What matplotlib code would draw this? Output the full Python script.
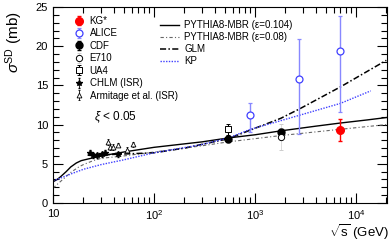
import matplotlib
matplotlib.use("Agg")
import matplotlib.pyplot as plt
from matplotlib.ticker import FixedLocator, NullFormatter
import numpy as np

plt.rcParams['font.family'] = ['Liberation Sans', 'DejaVu Sans']
plt.rcParams['mathtext.fontset'] = 'custom'
plt.rcParams['mathtext.rm'] = 'Liberation Sans'
plt.rcParams['mathtext.it'] = 'Liberation Sans:italic'

# ---- data ----
kg_x = [7000]; kg_y = [9.3]; kg_err = [1.4]
alice_x = [900, 2760, 7000]
alice_y = [11.2, 15.8, 19.4]
alice_lo = [2.1, 7.0, 7.8]
alice_hi = [1.6, 5.1, 4.5]
cdf_x = [546, 1800]; cdf_y = [8.2, 9.1]; cdf_err = [0.4, 0.4]
e710_x = [1800]; e710_y = [8.4]; e710_err = [1.7]
ua4_x = [546]; ua4_y = [9.4]; ua4_err = [0.7]
chlm_x = [23.3, 24.9, 27.3, 30.6, 32.7, 44.0]
chlm_y = [6.4, 6.1, 6.1, 6.2, 6.4, 6.2]
chlm_err = [0.3, 0.3, 0.3, 0.3, 0.3, 0.3]
arm_x = [35.0, 36.7, 39.3, 44.0, 54.0, 62.0]
arm_y = [7.8, 7.1, 7.1, 7.4, 6.8, 7.5]
arm_err = [0.4, 0.4, 0.4, 0.3, 0.3, 0.3]

mbr104_x = [10, 11, 12, 13.5, 15, 17, 19, 22, 30, 50, 100, 300, 546, 1000, 1800, 4000, 7000, 13000, 20000]
mbr104_y = [2.7, 3.0, 3.4, 4.0, 4.6, 5.1, 5.4, 5.6, 6.0, 6.5, 7.1, 7.8, 8.3, 8.7, 9.2, 9.8, 10.2, 10.6, 10.9]
mbr08_x = [10, 12, 15, 18, 20, 25, 30, 50, 100, 300, 546, 1800, 7000, 20000]
mbr08_y = [1.9, 2.8, 3.9, 4.6, 4.9, 5.4, 5.7, 6.0, 6.5, 7.3, 7.8, 8.6, 9.4, 10.0]
glm_x = [22, 40, 100, 200, 546, 900, 1800, 2760, 7000, 20000]
glm_y = [6.1, 6.2, 6.4, 7.0, 8.2, 9.3, 10.8, 12.0, 14.8, 18.2]
kp_x = [10, 15, 20, 30, 50, 100, 285, 546, 900, 1800, 7000, 14000]
kp_y = [2.8, 3.7, 4.3, 4.9, 5.5, 6.4, 7.4, 8.3, 9.4, 10.5, 12.7, 14.3]

xticks = [10, 100, 1000, 10000]
xticklabels = ['10', r'$10^{2}$', r'$10^{3}$', r'$10^{4}$']
yticks = [0, 5, 10, 15, 20, 25]

W, H = 391, 243
fig = plt.figure(figsize=(W/100, H/100), dpi=100)
ax = fig.add_axes([53/W, 1-203/H, (387-53)/W, 196/H])

blue = '#4040ff'
lblue = '#8888ff'

l1, = ax.plot(mbr104_x, mbr104_y, color='black', lw=1.0, ls='-')
l2, = ax.plot(mbr08_x, mbr08_y, color='#666666', lw=0.8, ls=(0, (3, 2, 1, 2)))
l3, = ax.plot(glm_x, glm_y, color='black', lw=1.1, ls=(0, (4, 1.5, 1, 1.5)))
l4, = ax.plot(kp_x, kp_y, color=blue, lw=1.0, ls=(0, (1, 1)))

h_kg = ax.errorbar(kg_x, kg_y, yerr=kg_err, fmt='o', color='red', ms=5.5, elinewidth=1.0, capsize=1.5)
h_al = ax.errorbar(alice_x, alice_y, yerr=[alice_lo, alice_hi], fmt='o', color=lblue, mfc='white',
                   mec=blue, ms=5, mew=0.9, elinewidth=1.0, capsize=1.5)
h_cdf = ax.errorbar(cdf_x, cdf_y, yerr=cdf_err, fmt='o', color='black', ms=5, elinewidth=0.8, capsize=1.5)
h_e7 = ax.errorbar(e710_x, e710_y, yerr=e710_err, fmt='o', color='#cccccc', mfc='white', mec='black',
                   ms=4.5, mew=0.7, elinewidth=0.5, capsize=1.5)
h_ua = ax.errorbar(ua4_x, ua4_y, yerr=ua4_err, fmt='s', color='black', mfc='white', mec='black',
                   ms=5, mew=0.7, elinewidth=0.8, capsize=1.5)
h_ch = ax.errorbar(chlm_x, chlm_y, yerr=chlm_err, fmt='*', color='black', ms=4, elinewidth=0.6, capsize=1)
h_ar = ax.errorbar(arm_x, arm_y, yerr=arm_err, fmt='^', color='black', mfc='white', mec='black',
                   ms=3.5, mew=0.6, elinewidth=0.6, capsize=1)

ax.set_xscale('log')
ax.set_xlim(10, 20300)
ax.set_ylim(0, 25)
ax.xaxis.set_major_locator(FixedLocator(xticks))
ax.set_xticklabels(xticklabels)
ax.xaxis.set_minor_locator(FixedLocator([m * d for d in [10, 100, 1000, 10000] for m in range(2, 10) if m * d <= 20300]))
ax.xaxis.set_minor_formatter(NullFormatter())
ax.set_yticks(yticks)
ax.set_yticks(np.arange(0, 25.1, 1), minor=True)
ax.tick_params(which='both', direction='in', top=True, right=True, labelsize=8, width=0.8)
ax.tick_params(which='major', length=7)
ax.tick_params(which='minor', length=4)
ax.tick_params(axis='x', pad=4)
for s in ax.spines.values():
    s.set_linewidth(0.8)

ax.set_ylabel(r'$\sigma^{\mathrm{SD}}$ (mb)', fontsize=11)
ax.yaxis.set_label_coords(-0.085, 0.82)
ax.set_xlabel(r'$\sqrt{\mathrm{s}}$ (GeV)', fontsize=9.5, ha='right')
ax.xaxis.set_label_coords(1.005, -0.1)

ax.text(94/W, 1-117/H, r'$\xi$ < 0.05', transform=fig.transFigure, fontsize=8.5, va='center')

leg1 = ax.legend([h_kg, h_al, h_cdf, h_e7, h_ua, h_ch, h_ar],
                 ['KG*', 'ALICE', 'CDF', 'E710', 'UA4', 'CHLM (ISR)', 'Armitage et al. (ISR)'],
                 loc='upper left', bbox_to_anchor=(74/W, 1-16/H), bbox_transform=fig.transFigure,
                 frameon=False, fontsize=7, handlelength=1.0, handletextpad=0.6,
                 labelspacing=0.25, borderpad=0, borderaxespad=0)
ax.add_artist(leg1)
ax.legend([l1, l2, l3, l4],
          ['PYTHIA8-MBR (ε=0.104)', 'PYTHIA8-MBR (ε=0.08)', 'GLM', 'KP'],
          loc='upper left', bbox_to_anchor=(160/W, 1-20/H), bbox_transform=fig.transFigure,
          frameon=False, fontsize=7, handlelength=2.0, handletextpad=0.5,
          labelspacing=0.22, borderpad=0, borderaxespad=0)

fig.savefig('out.png', dpi=100)
